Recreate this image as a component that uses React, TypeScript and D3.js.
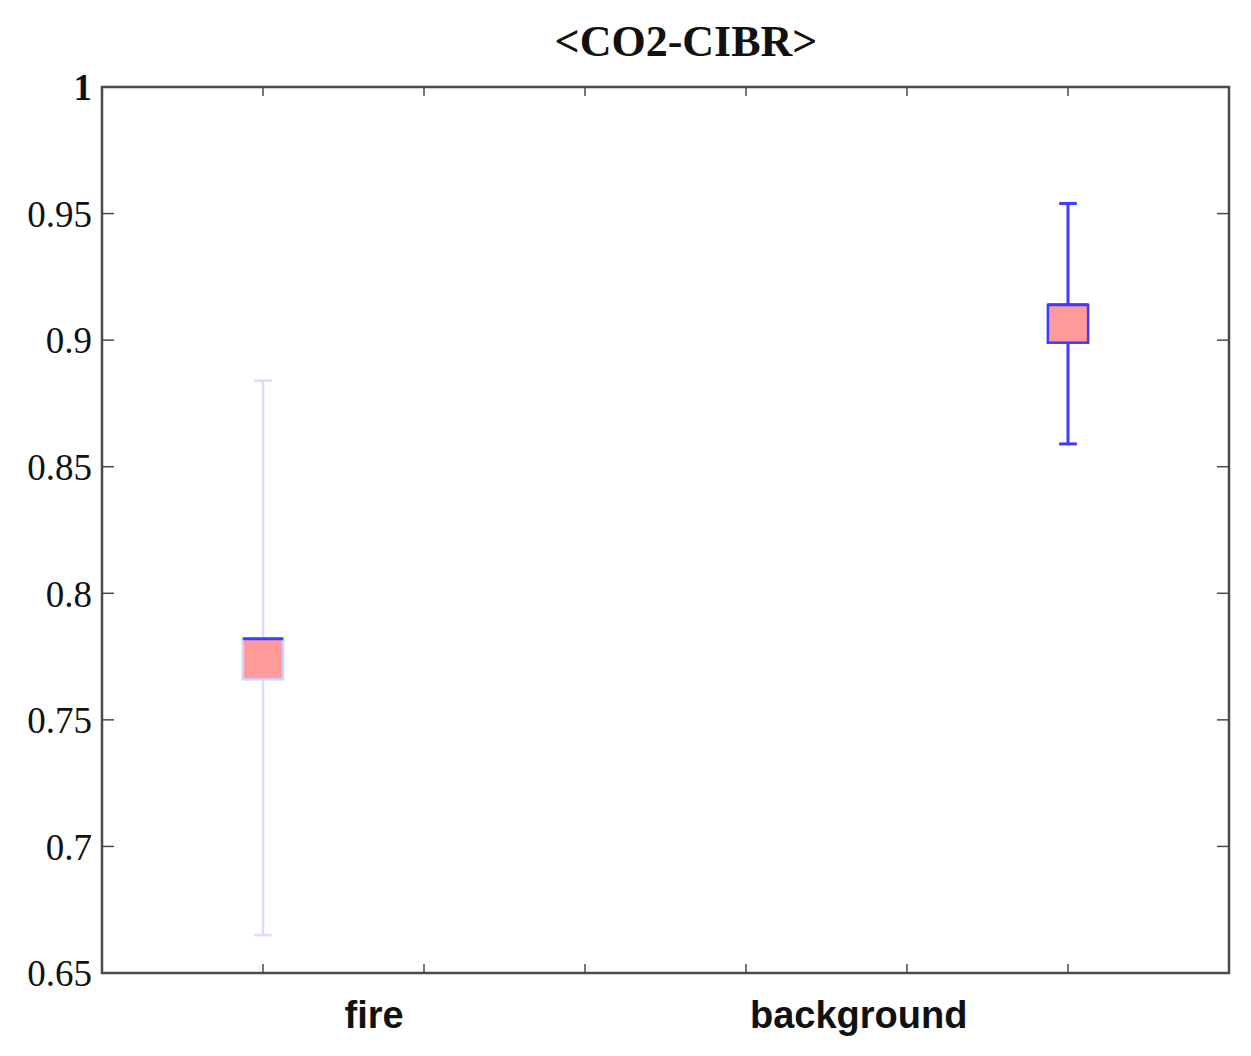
import React, { useEffect, useRef } from 'react';
import * as d3 from 'd3';

const title = "<CO2-CIBR>";
const categories = ["fire", "background"];
const catPositions = [1, 6];
const labelPositions = [1.69, 4.7];
const whiskerLow = [0.665, 0.859];
const whiskerHigh = [0.884, 0.954];
const boxLow = [0.766, 0.899];
const boxHigh = [0.782, 0.914];
const whiskerColors = ["#d9dcff", "#3c3cff"];
const sideColors = ["#d0d2ff", "#3c3cff"];
const yTicks = [0.65, 0.7, 0.75, 0.8, 0.85, 0.9, 0.95, 1];
const xTicks = [1, 2, 3, 4, 5, 6];

export default function App() {
    const ref = useRef<SVGSVGElement>(null);

    useEffect(() => {
        document.body.style.margin = "0";
        drawChart();
    }, []);

    const drawChart = () => {
        const svg = d3.select(ref.current);
        svg.selectAll("*").remove();

        const left = 102, right = 1229, top = 87, bottom = 973;

        const x = d3.scaleLinear().domain([0, 7]).range([left, right]);
        const y = d3.scaleLinear().domain([0.65, 1]).range([bottom, top]);

        const frameColor = "#4a4a4a";

        // title
        svg.append("text")
            .attr("x", 686)
            .attr("y", 56)
            .attr("text-anchor", "middle")
            .attr("font-family", "'Liberation Serif', 'Times New Roman', serif")
            .attr("font-weight", "bold")
            .attr("font-size", 44)
            .attr("fill", "#111")
            .text(title);

        // y tick marks (left and right, inward)
        yTicks.forEach(t => {
            svg.append("line")
                .attr("x1", left).attr("x2", left + 12)
                .attr("y1", y(t)).attr("y2", y(t))
                .attr("stroke", frameColor).attr("stroke-width", 1.5);
            svg.append("line")
                .attr("x1", right).attr("x2", right - 12)
                .attr("y1", y(t)).attr("y2", y(t))
                .attr("stroke", frameColor).attr("stroke-width", 1.5);
            svg.append("text")
                .attr("x", 92)
                .attr("y", y(t))
                .attr("dy", "0.36em")
                .attr("text-anchor", "end")
                .attr("font-family", "'Liberation Serif', 'Times New Roman', serif")
                .attr("font-size", 37)
                .attr("font-weight", t === 1 ? "bold" : "normal")
                .attr("fill", "#111")
                .text(d3.format("")(+t.toFixed(2)));
        });

        // x tick marks (bottom and top, inward)
        xTicks.forEach(t => {
            svg.append("line")
                .attr("x1", x(t)).attr("x2", x(t))
                .attr("y1", bottom).attr("y2", bottom - 9)
                .attr("stroke", frameColor).attr("stroke-width", 1.5);
            svg.append("line")
                .attr("x1", x(t)).attr("x2", x(t))
                .attr("y1", top).attr("y2", top + 9)
                .attr("stroke", frameColor).attr("stroke-width", 1.5);
        });

        // frame
        svg.append("rect")
            .attr("x", left).attr("y", top)
            .attr("width", right - left).attr("height", bottom - top)
            .attr("fill", "none")
            .attr("stroke", frameColor)
            .attr("stroke-width", 2.5);

        // category labels
        categories.forEach((c, i) => {
            svg.append("text")
                .attr("x", x(labelPositions[i]))
                .attr("y", 1028)
                .attr("text-anchor", "middle")
                .attr("font-family", "'Liberation Sans', Arial, sans-serif")
                .attr("font-weight", "bold")
                .attr("font-size", 38)
                .attr("fill", "#111")
                .text(c);
        });

        // whiskers and boxes
        const boxHalf = 0.125;
        const capHalf = 0.055;
        categories.forEach((c, i) => {
            const cx = x(catPositions[i]);
            const sw = i === 0 ? 2.5 : 3;
            svg.append("line")
                .attr("x1", cx).attr("x2", cx)
                .attr("y1", y(whiskerLow[i])).attr("y2", y(whiskerHigh[i]))
                .attr("stroke", whiskerColors[i]).attr("stroke-width", sw);
            [whiskerLow[i], whiskerHigh[i]].forEach(v => {
                svg.append("line")
                    .attr("x1", x(catPositions[i] - capHalf)).attr("x2", x(catPositions[i] + capHalf))
                    .attr("y1", y(v)).attr("y2", y(v))
                    .attr("stroke", whiskerColors[i]).attr("stroke-width", sw);
            });

            const bx0 = x(catPositions[i] - boxHalf);
            const bx1 = x(catPositions[i] + boxHalf);
            svg.append("rect")
                .attr("x", bx0).attr("y", y(boxHigh[i]))
                .attr("width", bx1 - bx0)
                .attr("height", y(boxLow[i]) - y(boxHigh[i]))
                .attr("fill", "#ff9a9a")
                .attr("stroke", sideColors[i])
                .attr("stroke-width", 2.5);
            // top edge drawn in strong blue
            svg.append("line")
                .attr("x1", bx0).attr("x2", bx1)
                .attr("y1", y(boxHigh[i])).attr("y2", y(boxHigh[i]))
                .attr("stroke", "#3c3cff").attr("stroke-width", 3);
        });
    };

    return (
        <svg ref={ref} width={1251} height={1056} style={{ display: 'block', background: '#fff' }}></svg>
    );
}
